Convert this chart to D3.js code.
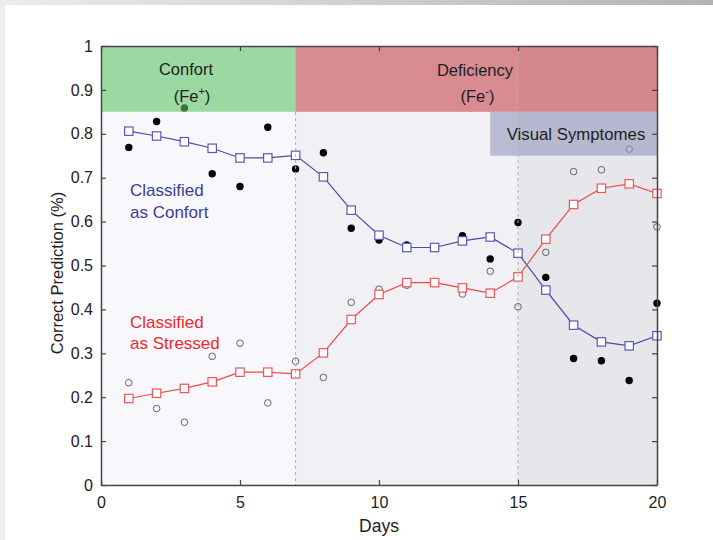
<!DOCTYPE html>
<html><head><meta charset="utf-8">
<script src="https://cdn.jsdelivr.net/npm/d3@7"></script>
<style>
body{margin:0;background:#fff}
svg{display:block}
text{font-family:"Liberation Sans",Arial,Helvetica,sans-serif}
</style>
</head><body>
<svg id="chart" width="713" height="540"></svg>
<script>
// ---------- data ----------
const days = [1,2,3,4,5,6,7,8,9,10,11,12,13,14,15,16,17,18,19,20];
const confortMean = [0.806,0.795,0.782,0.767,0.745,0.745,0.751,0.702,0.626,0.569,0.541,0.541,0.556,0.565,0.528,0.444,0.364,0.326,0.317,0.340];
const stressedMean = [0.197,0.209,0.220,0.235,0.257,0.257,0.253,0.301,0.377,0.434,0.461,0.461,0.449,0.437,0.474,0.560,0.639,0.676,0.686,0.664];
const confortDots = [0.769,0.828,0.859,0.709,0.680,0.815,0.720,0.757,0.585,0.558,0.547,0.540,0.568,0.515,0.598,0.473,0.288,0.283,0.238,0.414];
const stressedDots = [0.233,0.174,0.143,0.293,0.323,0.187,0.282,0.245,0.416,0.446,0.455,0.462,0.435,0.487,0.406,0.530,0.714,0.718,0.765,0.588];
const xTicks = [0,5,10,15,20];
const yTicks = [0,0.1,0.2,0.3,0.4,0.5,0.6,0.7,0.8,0.9,1];
const phaseStarts = [0,7,15];
const phaseEnds = [7,15,20];
const dividers = [7,15];

// ---------- layout ----------
const svg = d3.select("#chart");
const x = d3.scaleLinear().domain([0,20]).range([101,657]);
const y = d3.scaleLinear().domain([0,1]).range([485,46]);

// page decoration
const defs = svg.append("defs");
const g1 = defs.append("linearGradient").attr("id","topbar");
g1.append("stop").attr("offset","0%").attr("stop-color","#ececec");
g1.append("stop").attr("offset","100%").attr("stop-color","#b3b3b3");
svg.append("rect").attr("x",0).attr("y",0).attr("width",713).attr("height",5).attr("fill","url(#topbar)");
svg.append("rect").attr("x",0).attr("y",5).attr("width",5).attr("height",535).attr("fill","#ededed");

// phase backgrounds
const bgColors = ["#f8f8fc","#f1f1f5","#e6e6eb"];
svg.append("g").selectAll("rect").data(phaseStarts).join("rect")
  .attr("x",(d)=>x(d)).attr("width",(d,i)=>x(phaseEnds[i])-x(d))
  .attr("y",y(1)).attr("height",y(0)-y(1))
  .attr("fill",(d,i)=>bgColors[i]);

// individual points
const line = d3.line().x((d,i)=>x(days[i])).y(d=>y(d));
svg.append("g").selectAll("circle").data(confortDots).join("circle")
  .attr("cx",(d,i)=>x(days[i])).attr("cy",d=>y(d)).attr("r",3.7).attr("fill","#000");
svg.append("g").selectAll("circle").data(stressedDots).join("circle")
  .attr("cx",(d,i)=>x(days[i])).attr("cy",d=>y(d)).attr("r",3.3)
  .attr("fill","none").attr("stroke","#555").attr("stroke-width",0.9);

// mean lines
function series(vals, lineCol, sqCol){
  svg.append("path").datum(vals).attr("d",line).attr("fill","none")
    .attr("stroke",lineCol).attr("stroke-width",1.2);
  svg.append("g").selectAll("rect").data(vals).join("rect")
    .attr("x",(d,i)=>x(days[i])-4.2).attr("y",d=>y(d)-4.2)
    .attr("width",8.4).attr("height",8.4)
    .attr("fill","#fff").attr("stroke",sqCol).attr("stroke-width",1.2);
}
series(confortMean,"#4a4aa8","#5a5ab8");
series(stressedMean,"#f04848","#f05555");

// overlay bands (semi-transparent)
svg.append("rect").attr("x",x(0)).attr("width",x(7)-x(0)).attr("y",y(1)).attr("height",y(0.85)-y(1))
  .attr("fill","rgb(95,195,100)").attr("fill-opacity",0.6);
svg.append("rect").attr("x",x(7)).attr("width",x(20)-x(7)).attr("y",y(1)).attr("height",y(0.85)-y(1))
  .attr("fill","rgb(200,72,78)").attr("fill-opacity",0.6);
svg.append("rect").attr("x",x(14)).attr("width",x(20)-x(14)).attr("y",y(0.85)).attr("height",y(0.75)-y(0.85))
  .attr("fill","rgb(150,153,188)").attr("fill-opacity",0.6);

// dashed dividers
svg.append("g").selectAll("line").data(dividers).join("line")
  .attr("x1",d=>x(d)).attr("x2",d=>x(d)).attr("y1",y(1)).attr("y2",y(0))
  .attr("stroke","#b0b0b4").attr("stroke-width",1).attr("stroke-dasharray","3,3");

// axes
const fmt = d => String(+d.toFixed(1));
const axCol = "#444";
function styleAxis(g){
  g.select(".domain").attr("stroke",axCol).attr("stroke-width",1.5);
  g.selectAll(".tick line").attr("stroke",axCol).attr("stroke-width",1.2);
  g.selectAll(".tick text").attr("fill","#222").attr("font-size",16)
    .attr("font-family","\"Liberation Sans\",Arial,sans-serif");
}
svg.append("g").attr("transform",`translate(0,${y(0)})`)
  .call(d3.axisBottom(x).tickValues(xTicks).tickFormat(fmt).tickSizeInner(-5).tickSizeOuter(0).tickPadding(12))
  .call(styleAxis);
svg.append("g").attr("transform",`translate(${x(0)},0)`)
  .call(d3.axisLeft(y).tickValues(yTicks).tickFormat(fmt).tickSizeInner(-5).tickSizeOuter(0).tickPadding(8))
  .call(styleAxis);
svg.append("g").attr("transform",`translate(0,${y(1)})`)
  .call(d3.axisTop(x).tickValues(xTicks).tickFormat("").tickSizeInner(-5).tickSizeOuter(0))
  .call(styleAxis);
svg.append("g").attr("transform",`translate(${x(20)},0)`)
  .call(d3.axisRight(y).tickValues(yTicks).tickFormat("").tickSizeInner(-5).tickSizeOuter(0))
  .call(styleAxis);

// axis titles
svg.append("text").attr("x",379).attr("y",532).attr("text-anchor","middle")
  .attr("font-size",17.5).attr("fill","#222").text("Days");
svg.append("text").attr("transform","translate(63,273) rotate(-90)").attr("text-anchor","middle")
  .attr("font-size",16.5).attr("fill","#222").text("Correct Prediction (%)");

// band labels
function label(tx, ty, txt, col, size){
  return svg.append("text").attr("x",tx).attr("y",ty).attr("text-anchor","middle")
    .attr("font-size",size).attr("fill",col).text(txt);
}
label(186, 75, "Confort", "#1e1e1e", 16.5);
label(475, 75.5, "Deficiency", "#1e1e1e", 16.5);
function feLabel(tx, sup){
  const t = svg.append("text").attr("x",tx).attr("y",102).attr("text-anchor","middle")
    .attr("font-size",16.5).attr("fill","#1e1e1e");
  t.append("tspan").text("(Fe");
  t.append("tspan").attr("dy",-7).attr("font-size",11).text(sup);
  t.append("tspan").attr("dy",7).text(")");
}
feLabel(192, "+");
feLabel(477.5, "-");
label(576, 139.5, "Visual Symptomes", "#1e1e1e", 16.8);

// series labels
function left(ty, txt, col){
  svg.append("text").attr("x",130).attr("y",ty).attr("font-size",17).attr("fill",col).text(txt);
}
left(196, "Classified", "#3b3d97");
left(217.5, "as Confort", "#3b3d97");
left(327.5, "Classified", "#f0282a");
left(348.5, "as Stressed", "#f0282a");
</script>
</body></html>
